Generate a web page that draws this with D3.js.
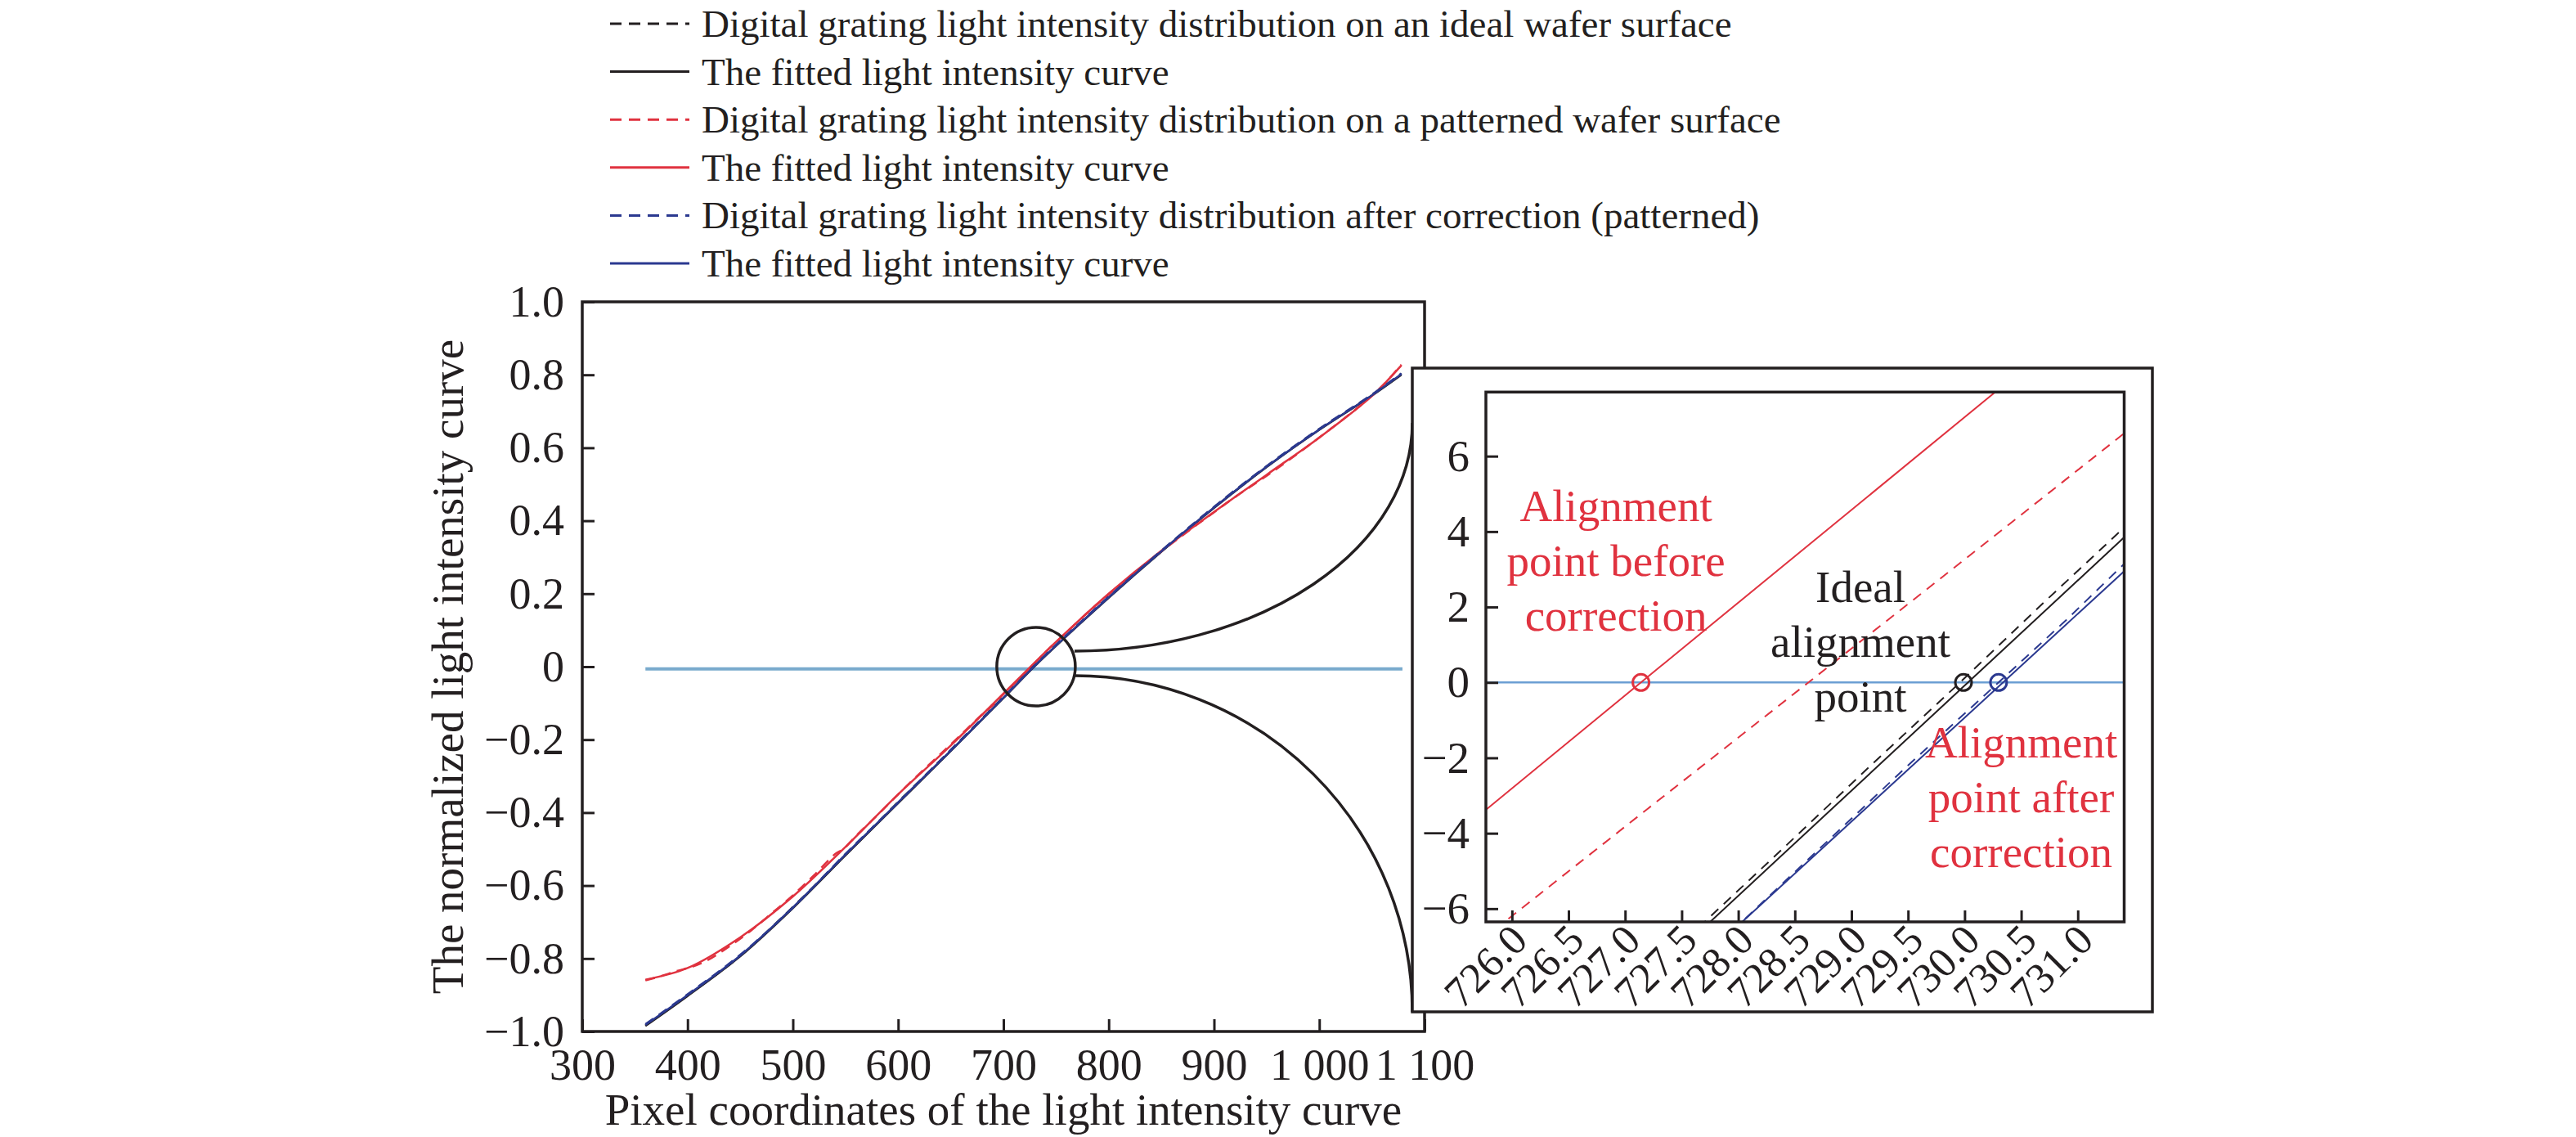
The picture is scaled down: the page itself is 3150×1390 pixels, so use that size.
<!DOCTYPE html>
<html lang="en">
<head>
<meta charset="UTF-8">
<title>Digital grating light intensity curves</title>
<script src="https://d3js.org/d3.v7.min.js"></script>
<style>
  body { margin: 0; background: #fff; }
  svg text { font-family: "Liberation Serif", "Times New Roman", serif; fill: #231f20; }
</style>
</head>
<body>
<div id="chart"></div>
<script>
    // ---- main plot data ----
    const mainTicksX = [300, 400, 500, 600, 700, 800, 900, 1000, 1100];
    const mainTickLabelsX = ["300", "400", "500", "600", "700", "800", "900", "1 000", "1 100"];
    const mainTicksY = [1.0, 0.8, 0.6, 0.4, 0.2, 0, -0.2, -0.4, -0.6, -0.8, -1.0];

    const fitX = [360, 400, 450, 500, 550, 600, 650, 700, 730, 750, 800, 850, 900, 950, 1000, 1050, 1078];
    const idealDataY = [-0.983, -0.901, -0.793, -0.659, -0.516, -0.371, -0.229, -0.083, 0.005, 0.059, 0.191, 0.317, 0.437, 0.549, 0.651, 0.745, 0.803];
    const idealFitY = [-0.985, -0.903, -0.794, -0.662, -0.517, -0.374, -0.231, -0.086, 0.002, 0.057, 0.189, 0.315, 0.435, 0.547, 0.649, 0.743, 0.800];
    const patternFitY = [-0.858, -0.826, -0.742, -0.630, -0.494, -0.350, -0.216, -0.074, 0.012, 0.068, 0.200, 0.318, 0.424, 0.526, 0.628, 0.742, 0.826];
    const correctedDataY = [-0.980, -0.898, -0.790, -0.661, -0.513, -0.373, -0.228, -0.084, 0.004, 0.060, 0.192, 0.318, 0.438, 0.550, 0.652, 0.746, 0.804];
    const correctedFitY = [-0.982, -0.900, -0.792, -0.660, -0.515, -0.372, -0.230, -0.085, 0.003, 0.058, 0.190, 0.316, 0.436, 0.548, 0.650, 0.744, 0.802];

    const patternDataX = [360, 375, 390, 405, 420, 440, 460, 480, 500, 520, 540, 548, 560, 580, 600, 620, 640, 660, 680, 690, 700, 720, 740, 760, 780, 800, 830, 860, 890, 920, 950, 980, 1010, 1040, 1060, 1078];
    const patternDataY = [-0.860, -0.848, -0.834, -0.822, -0.803, -0.766, -0.724, -0.676, -0.627, -0.572, -0.514, -0.500, -0.464, -0.408, -0.350, -0.294, -0.240, -0.186, -0.130, -0.106, -0.075, -0.020, 0.040, 0.094, 0.148, 0.198, 0.270, 0.338, 0.402, 0.465, 0.523, 0.585, 0.650, 0.718, 0.770, 0.828];

    const mainZeroX = [360, 1079];
    const mainZeroY = [-0.006, -0.006];
    const zoomCentre = [731, 0];

    // ---- inset (zoomed) data ----
    const insetTicksX = [726.0, 726.5, 727.0, 727.5, 728.0, 728.5, 729.0, 729.5, 730.0, 730.5, 731.0];
    const insetTicksY = [6, 4, 2, 0, -2, -4, -6];
    const insetPatternFit = [[725.70, -3.55], [727.14, 0], [731.45, 10.6]];
    const insetPatternData = [[725.85, -6.55], [727.2, -3.35], [728.62, 0], [730.0, 3.26], [731.45, 6.70]];
    const insetIdealData = [[727.65, -6.50], [728.4, -4.39], [729.2, -2.12], [729.96, 0], [730.7, 2.12], [731.45, 4.22]];
    const insetIdealFit = [[727.68, -6.55], [730.03, 0], [731.45, 3.96]];
    const insetCorrectedData = [[727.95, -6.58], [728.7, -4.46], [729.5, -2.20], [730.30, 0], [730.9, 1.66], [731.45, 3.26]];
    const insetCorrectedFit = [[727.98, -6.50], [730.34, 0], [731.45, 3.06]];
    const insetZero = [[725.77, 0], [731.41, 0]];
    const alignPoints = [[727.14, 0], [729.99, 0], [730.30, 0]];

    const RED = "#e0323f", BLUE = "#2b3990", BLACK = "#231f20", LIGHTBLUE = "#79aacd";

    const svg = d3.select("#chart").append("svg")
        .attr("width", 3150)
        .attr("height", 1390);

    // ---- legend ----
    const legendItems = [
        {text: "Digital grating light intensity distribution on an ideal wafer surface", color: BLACK, dash: "14,9"},
        {text: "The fitted light intensity curve", color: BLACK, dash: null},
        {text: "Digital grating light intensity distribution on a patterned wafer surface", color: RED, dash: "14,9"},
        {text: "The fitted light intensity curve", color: RED, dash: null},
        {text: "Digital grating light intensity distribution after correction (patterned)", color: BLUE, dash: "14,9"},
        {text: "The fitted light intensity curve", color: BLUE, dash: null}
    ];
    const legend = svg.append("g");
    legendItems.forEach(function (d, i) {
        var cy = 29 + i * 58.6;
        legend.append("line")
            .attr("x1", 746).attr("x2", 843)
            .attr("y1", cy).attr("y2", cy)
            .attr("stroke", d.color)
            .attr("stroke-width", 3)
            .attr("stroke-dasharray", d.dash);
        legend.append("text")
            .attr("x", 858).attr("y", cy + 16)
            .attr("font-size", 47)
            .text(d.text);
    });

    // ---- main plot ----
    const x = d3.scaleLinear().domain([300, 1100]).range([712, 1742]);
    const y = d3.scaleLinear().domain([-1, 1]).range([1261, 369]);

    const lineXY = d3.line().x(function (d) { return x(d[0]); }).y(function (d) { return y(d[1]); });
    function zipXY(xs, ys) { return xs.map(function (v, i) { return [v, ys[i]]; }); }

    svg.append("path")
        .attr("d", lineXY(zipXY(mainZeroX, mainZeroY)))
        .attr("stroke", LIGHTBLUE).attr("stroke-width", 4).attr("fill", "none");

    const mainSeries = [
        {data: zipXY(fitX, idealDataY), color: BLACK, dash: "12,8"},
        {data: zipXY(fitX, idealFitY), color: BLACK, dash: null},
        {data: zipXY(patternDataX, patternDataY), color: RED, dash: "12,8"},
        {data: zipXY(fitX, patternFitY), color: RED, dash: null},
        {data: zipXY(fitX, correctedDataY), color: BLUE, dash: "12,8"},
        {data: zipXY(fitX, correctedFitY), color: BLUE, dash: null}
    ];
    const smoothLine = d3.line().curve(d3.curveCatmullRom)
        .x(function (d) { return x(d[0]); }).y(function (d) { return y(d[1]); });
    mainSeries.forEach(function (s) {
        svg.append("path")
            .attr("d", smoothLine(s.data))
            .attr("stroke", s.color)
            .attr("stroke-width", 2.5)
            .attr("stroke-dasharray", s.dash)
            .attr("fill", "none");
    });

    const fmtY = function (d) {
        if (d === 0) return "0";
        var s = d3.format(".1f")(Math.abs(d));
        return d < 0 ? "\u2212" + s : s;
    };
    const fmtInt = function (d) {
        return d < 0 ? "\u2212" + Math.abs(d) : String(d);
    };

    svg.append("g")
        .attr("transform", "translate(0,1261)")
        .call(d3.axisBottom(x).tickValues(mainTicksX)
            .tickFormat(function (d, i) { return mainTickLabelsX[i]; })
            .tickSizeInner(-15).tickSizeOuter(0).tickPadding(21))
        .attr("font-size", 54)
        .attr("font-family", "Liberation Serif, serif")
        .attr("color", BLACK)
        .call(function (g) { g.select(".domain").remove(); })
        .call(function (g) { g.selectAll(".tick line").attr("stroke-width", 3); });

    svg.append("g")
        .attr("transform", "translate(712,0)")
        .call(d3.axisLeft(y).tickValues(mainTicksY).tickFormat(fmtY)
            .tickSizeInner(-15).tickSizeOuter(0).tickPadding(22))
        .attr("font-size", 54)
        .attr("font-family", "Liberation Serif, serif")
        .attr("color", BLACK)
        .call(function (g) { g.select(".domain").remove(); })
        .call(function (g) { g.selectAll(".tick line").attr("stroke-width", 3); });

    svg.append("rect")
        .attr("x", x(300)).attr("y", y(1))
        .attr("width", x(1100) - x(300)).attr("height", y(-1) - y(1))
        .attr("fill", "none").attr("stroke", BLACK).attr("stroke-width", 3.5);

    svg.append("text")
        .attr("x", (x(300) + x(1100)) / 2).attr("y", 1375)
        .attr("text-anchor", "middle").attr("font-size", 55)
        .text("Pixel coordinates of the light intensity curve");

    svg.append("text")
        .attr("transform", "translate(566," + ((y(1) + y(-1)) / 2) + ") rotate(-90)")
        .attr("text-anchor", "middle").attr("font-size", 55)
        .text("The normalized light intensity curve");

    // zoom circle and connectors
    const cx = x(zoomCentre[0]), cy = y(zoomCentre[1]);
    svg.append("circle")
        .attr("cx", cx).attr("cy", cy).attr("r", 48)
        .attr("fill", "none").attr("stroke", BLACK).attr("stroke-width", 3.5);

    // ---- inset ----
    const outer = {x: 1727, y: 450, w: 905, h: 787};
    const ix = d3.scaleLinear().domain([725.77, 731.41]).range([1817, 2597.5]);
    const iy = d3.scaleLinear().domain([-6.35, 7.70]).range([1127, 479.3]);

    const upStart = [cx + 47, cy - 19], upEnd = [outer.x, outer.y + 67];
    const loStart = [cx + 47, cy + 11], loEnd = [outer.x, outer.y + outer.h];
    svg.append("path")
        .attr("d", "M" + upStart + " A" + (upEnd[0] - upStart[0]) + "," + (upStart[1] - upEnd[1]) + " 0 0 0 " + upEnd)
        .attr("fill", "none").attr("stroke", BLACK).attr("stroke-width", 3.5);
    svg.append("path")
        .attr("d", "M" + loStart + " A" + (loEnd[0] - loStart[0]) + "," + (loEnd[1] - loStart[1]) + " 0 0 1 " + loEnd)
        .attr("fill", "none").attr("stroke", BLACK).attr("stroke-width", 3.5);

    svg.append("rect")
        .attr("x", outer.x).attr("y", outer.y).attr("width", outer.w).attr("height", outer.h)
        .attr("fill", "#fff").attr("stroke", BLACK).attr("stroke-width", 3.5);

    svg.append("clipPath").attr("id", "insetClip")
        .append("rect")
        .attr("x", ix.range()[0]).attr("y", iy.range()[1])
        .attr("width", ix.range()[1] - ix.range()[0])
        .attr("height", iy.range()[0] - iy.range()[1]);

    const inset = svg.append("g").attr("clip-path", "url(#insetClip)");
    const iLine = d3.line().x(function (d) { return ix(d[0]); }).y(function (d) { return iy(d[1]); });

    inset.append("path").attr("d", iLine(insetZero))
        .attr("stroke", "#6c9fd3").attr("stroke-width", 2.5).attr("fill", "none");

    const insetSeries = [
        {data: insetPatternFit, color: RED, dash: null},
        {data: insetPatternData, color: RED, dash: "12,9"},
        {data: insetIdealData, color: BLACK, dash: "12,9"},
        {data: insetIdealFit, color: BLACK, dash: null},
        {data: insetCorrectedData, color: BLUE, dash: "12,9"},
        {data: insetCorrectedFit, color: BLUE, dash: null}
    ];
    insetSeries.forEach(function (s) {
        inset.append("path")
            .attr("d", iLine(s.data))
            .attr("stroke", s.color).attr("stroke-width", 2)
            .attr("stroke-dasharray", s.dash).attr("fill", "none");
    });

    const pointColors = [RED, BLACK, BLUE];
    svg.selectAll(".align-pt").data(alignPoints).enter()
        .append("circle")
        .attr("class", "align-pt")
        .attr("cx", function (d) { return ix(d[0]); })
        .attr("cy", function (d) { return iy(d[1]); })
        .attr("r", 10)
        .attr("fill", "none")
        .attr("stroke", function (d, i) { return pointColors[i]; })
        .attr("stroke-width", 3);

    svg.append("g")
        .attr("transform", "translate(" + ix.range()[0] + ",0)")
        .call(d3.axisLeft(iy).tickValues(insetTicksY).tickFormat(fmtInt)
            .tickSizeInner(-15).tickSizeOuter(0).tickPadding(20))
        .attr("font-size", 55)
        .attr("font-family", "Liberation Serif, serif")
        .attr("color", BLACK)
        .call(function (g) { g.select(".domain").remove(); })
        .call(function (g) { g.selectAll(".tick line").attr("stroke-width", 3); });

    const xAxisInset = svg.append("g")
        .attr("transform", "translate(0," + iy.range()[0] + ")")
        .call(d3.axisBottom(ix).tickValues(insetTicksX).tickFormat(d3.format(".1f"))
            .tickSizeInner(-14).tickSizeOuter(0))
        .attr("font-size", 52)
        .attr("font-family", "Liberation Serif, serif")
        .attr("color", BLACK)
        .call(function (g) { g.select(".domain").remove(); })
        .call(function (g) { g.selectAll(".tick line").attr("stroke-width", 3); });
    xAxisInset.selectAll(".tick text")
        .attr("y", 0).attr("dy", null)
        .attr("text-anchor", "end")
        .attr("transform", "translate(21,25) rotate(-45)");

    svg.append("rect")
        .attr("x", ix.range()[0]).attr("y", iy.range()[1])
        .attr("width", ix.range()[1] - ix.range()[0])
        .attr("height", iy.range()[0] - iy.range()[1])
        .attr("fill", "none").attr("stroke", BLACK).attr("stroke-width", 3.5);

    // annotations inside the inset
    const notes = [
        {at: [726.92, 4.28], lines: ["Alignment", "point before", "correction"], color: RED},
        {at: [729.08, 2.13], lines: ["Ideal", "alignment", "point"], color: BLACK},
        {at: [730.50, -1.99], lines: ["Alignment", "point after", "correction"], color: RED}
    ];
    notes.forEach(function (n) {
        var t = svg.append("text")
            .attr("x", ix(n.at[0])).attr("y", iy(n.at[1]))
            .attr("text-anchor", "middle").attr("font-size", 55)
            .style("fill", n.color);
        n.lines.forEach(function (l, i) {
            t.append("tspan").attr("x", ix(n.at[0])).attr("dy", i === 0 ? 0 : 67).text(l);
        });
    });
</script>
</body>
</html>
